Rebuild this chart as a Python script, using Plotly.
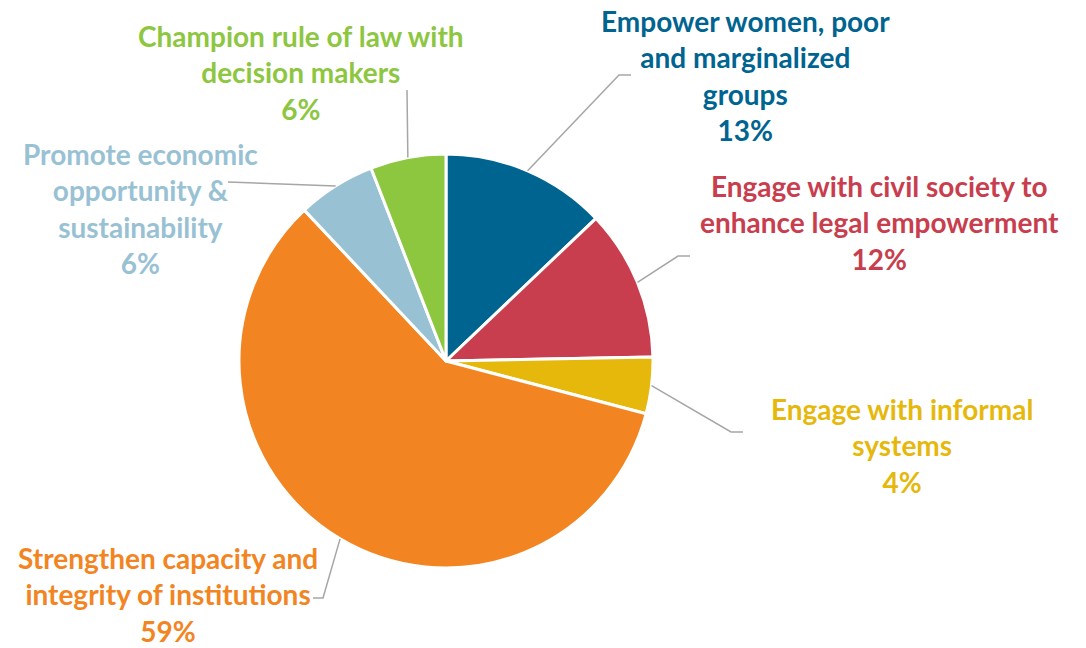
import plotly.graph_objects as go
import math

# ---- data ----
categories = [
    "Empower women, poor<br>and marginalized<br>groups",
    "Engage with civil society to<br>enhance legal empowerment",
    "Engage with informal<br>systems",
    "Strengthen capacity and<br>integrity of institutions",
    "Promote economic<br>opportunity &<br>sustainability",
    "Champion rule of law with<br>decision makers",
]
values = [12.9, 11.8, 4.4, 58.9, 6.1, 5.9]
colors = ["#006491", "#C83E4E", "#E6B80C", "#F28522", "#99C1D4", "#8DC63F"]
text_colors = ["#006491", "#C83E4E", "#E6B80C", "#F28522", "#99C1D4", "#8DC63F"]

# ---- layout (pixel space) ----
W, H = 1086, 648
CX, CY, R = 446, 361, 207
# label block centres (px)
label_pos = [(745, 76), (879, 223), (902, 445), (168, 594), (140, 208), (301, 72)]
# leader line elbow and end points (px)
elbows = [(619, 75), (678, 256), (731, 432), (323, 598), (228, 182), (407, 90)]
ends = [(631, 75), (690, 256), (743, 432), (313, 598), (228, 182), (407, 90)]


def px(x):
    return x / W


def py(y):
    return 1 - y / H


fig = go.Figure(
    go.Pie(
        labels=[c.replace("<br>", " ") for c in categories],
        values=values,
        sort=False,
        direction="clockwise",
        rotation=0,
        textinfo="none",
        marker=dict(colors=colors, line=dict(color="white", width=3)),
        domain=dict(x=[px(CX - R), px(CX + R)], y=[py(CY + R), py(CY - R)]),
        showlegend=False,
    )
)

total = sum(values)
cum = 0
shapes = []
annotations = []
for i, v in enumerate(values):
    mid = (cum + v / 2) / total * 2 * math.pi
    cum += v
    sx = CX + R * math.sin(mid)
    sy = CY - R * math.cos(mid)
    ex, ey = elbows[i]
    fx, fy = ends[i]
    path = f"M {px(sx)} {py(sy)} L {px(ex)} {py(ey)} L {px(fx)} {py(fy)}"
    shapes.append(dict(type="path", xref="paper", yref="paper", path=path,
                       line=dict(color="#A6A6A6", width=1.5)))
    lx, ly = label_pos[i]
    annotations.append(dict(
        x=px(lx), y=py(ly), xref="paper", yref="paper",
        text=f"{categories[i]}<br>{round(v)}%",
        showarrow=False, xanchor="center", yanchor="middle", align="center",
        font=dict(family="Lato", size=28, color=text_colors[i], weight=700),
    ))

fig.update_layout(
    width=W, height=H,
    margin=dict(l=0, r=0, t=0, b=0),
    paper_bgcolor="white", plot_bgcolor="white",
    shapes=shapes, annotations=annotations,
)

fig.write_html("out.html",
               config={"displayModeBar": False},
               post_script="document.body.style.margin='0';document.body.style.overflow='hidden';")
